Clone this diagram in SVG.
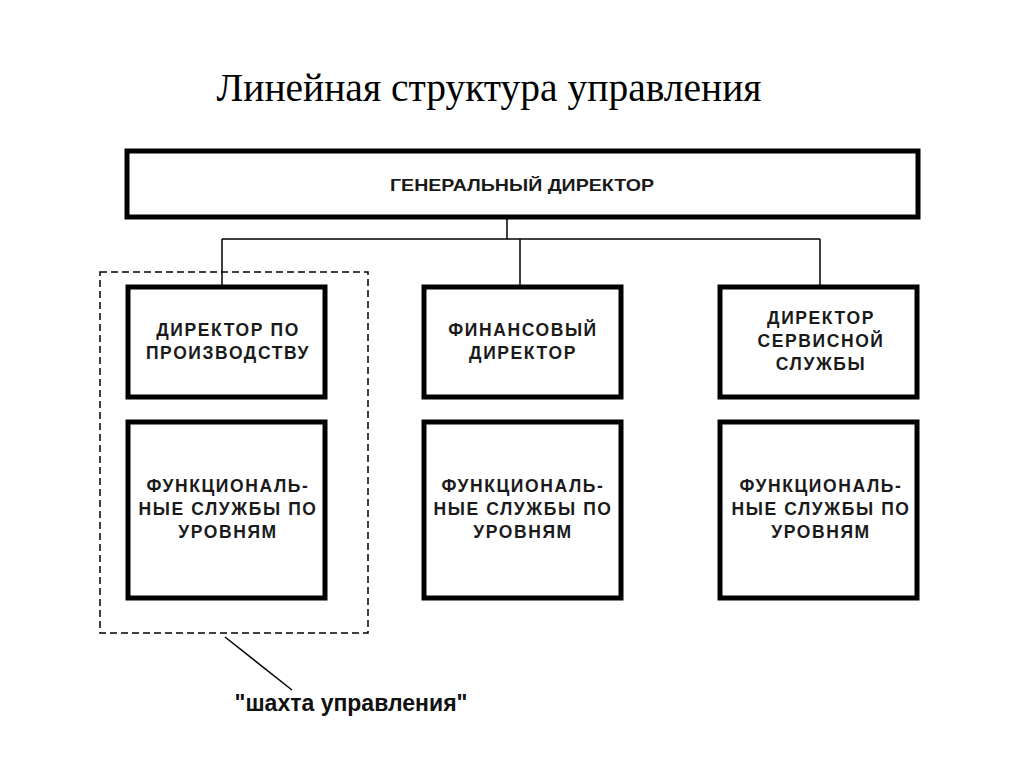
<svg xmlns="http://www.w3.org/2000/svg" width="1024" height="767" viewBox="0 0 1024 767">
<style>
.box{fill:#fff;stroke:#000;stroke-width:5}
.lbl{font-family:"Liberation Sans",Arial,sans-serif;font-weight:bold;font-size:17.5px;letter-spacing:1.6px;fill:#1a1a1a;text-anchor:middle}
.top{font-family:"Liberation Sans",Arial,sans-serif;font-weight:bold;font-size:17px;fill:#1a1a1a;text-anchor:middle}
.conn{stroke:#000;stroke-width:1.5;fill:none}
</style>
<rect width="1024" height="767" fill="#fff"/>
<text x="489" y="101" font-family="Liberation Serif,'Times New Roman',serif" font-size="39.5" text-anchor="middle" fill="#000">Линейная структура управления</text>
<g id="connectors">
<path class="conn" d="M507 218V239M222 239H820M222 239V285M520 239V285M820 239V285"/>
<rect x="100" y="272" width="268" height="361" fill="none" stroke="#000" stroke-width="1.5" stroke-dasharray="7,4"/>
<path class="conn" d="M225 637L292 690"/>
</g>
<g id="gen"><rect class="box" x="127" y="151" width="791" height="66"/><text class="top" x="522" y="191" textLength="264" lengthAdjust="spacingAndGlyphs">ГЕНЕРАЛЬНЫЙ ДИРЕКТОР</text></g>
<g id="d1"><rect class="box" x="128" y="287" width="197" height="110"/><text class="lbl" x="228" y="336">ДИРЕКТОР ПО</text><text class="lbl" x="228" y="359">ПРОИЗВОДСТВУ</text></g>
<g id="d2"><rect class="box" x="424" y="287" width="197" height="110"/><text class="lbl" x="523" y="336">ФИНАНСОВЫЙ</text><text class="lbl" x="523" y="359">ДИРЕКТОР</text></g>
<g id="d3"><rect class="box" x="720" y="287" width="197" height="110"/><text class="lbl" x="821" y="324">ДИРЕКТОР</text><text class="lbl" x="821" y="347">СЕРВИСНОЙ</text><text class="lbl" x="821" y="370">СЛУЖБЫ</text></g>
<g id="f1"><rect class="box" x="128" y="422" width="197" height="176"/><text class="lbl" x="228" y="492">ФУНКЦИОНАЛЬ-</text><text class="lbl" x="228" y="515">НЫЕ СЛУЖБЫ ПО</text><text class="lbl" x="228" y="538">УРОВНЯМ</text></g>
<g id="f2"><rect class="box" x="424" y="422" width="197" height="176"/><text class="lbl" x="523" y="492">ФУНКЦИОНАЛЬ-</text><text class="lbl" x="523" y="515">НЫЕ СЛУЖБЫ ПО</text><text class="lbl" x="523" y="538">УРОВНЯМ</text></g>
<g id="f3"><rect class="box" x="720" y="422" width="197" height="176"/><text class="lbl" x="821" y="492">ФУНКЦИОНАЛЬ-</text><text class="lbl" x="821" y="515">НЫЕ СЛУЖБЫ ПО</text><text class="lbl" x="821" y="538">УРОВНЯМ</text></g>
<g id="shaft"><text x="351" y="711" font-family="Liberation Sans,Arial,sans-serif" font-weight="bold" font-size="23" text-anchor="middle" fill="#111">"шахта управления"</text></g>
</svg>
